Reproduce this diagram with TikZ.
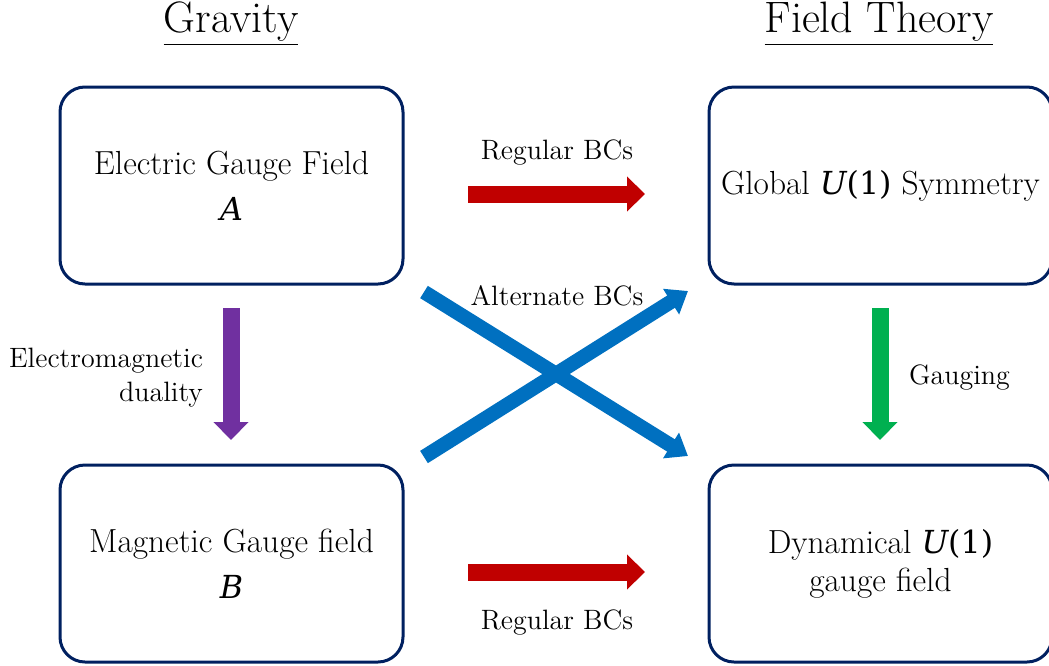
\documentclass[tikz,border=0pt]{standalone}
\usepackage{fontspec}
\newfontfamily\mathfnt[Scale=0.95]{DejaVu Serif}
\usetikzlibrary{arrows.meta}
\definecolor{boxblue}{HTML}{002060}
\definecolor{bcred}{HTML}{C00000}
\definecolor{dualpurple}{HTML}{7030A0}
\definecolor{gaugegreen}{HTML}{00B050}
\definecolor{altblue}{HTML}{0070C0}
\newcommand{\mvar}[1]{{\mathfnt\itshape #1}}
\newcommand{\uone}{\mvar{U}{\mathfnt(1)}}
\begin{document}
\begin{tikzpicture}[x=0.5pt,y=-0.5pt,
  box/.style={draw=boxblue,line width=1.5pt,rounded corners=12.5pt,minimum width=171.5pt,minimum height=98.5pt,align=center,font=\fontsize{16.7}{19}\selectfont},
  lbl/.style={font=\fontsize{14}{17}\selectfont},
  ttl/.style={font=\fontsize{22}{26}\selectfont,inner sep=1pt},
  fat/.style={line width=8.5pt,-{Triangle[width=17pt,length=9pt]}},
  slim/.style={line width=7.25pt,-{Triangle[width=14.5pt,length=10pt]}}]
\useasboundingbox (0,0) rectangle (1049,665);
% titles
\node[ttl] (grav) at (231,24) {\underline{Gravity}};
\node[ttl] (fthy) at (879,24) {\underline{Field Theory}};
% boxes
\node[box] (elec) at (231.5,185.5) {Electric Gauge Field\\[4pt]\mvar{A}};
\node[box] (magn) at (231.5,563.5) {Magnetic Gauge field\\[4pt]\mvar{B}};
\node[box] (glob) at (880.5,185.5) {Global \uone{} Symmetry};
\node[box] (dyna) at (880.5,563.5) {Dynamical \uone\\gauge field};
% arrow ends
\coordinate (regAs) at (468,194);
\coordinate (regAe) at (645,194);
\coordinate (regBs) at (468,572);
\coordinate (regBe) at (645,572);
\coordinate (dualS) at (231,308);
\coordinate (dualE) at (231,440);
\coordinate (gaugS) at (880,308);
\coordinate (gaugE) at (880,440);
\coordinate (altAs) at (424,457);
\coordinate (altAe) at (688,291);
\coordinate (altBs) at (424,292);
\coordinate (altBe) at (688,456);
% arrows
\draw[fat,bcred] (regAs) -- (regAe);
\draw[fat,bcred] (regBs) -- (regBe);
\draw[fat,dualpurple] (dualS) -- (dualE);
\draw[fat,gaugegreen] (gaugS) -- (gaugE);
\draw[slim,altblue] (altAs) -- (altAe);
\draw[slim,altblue] (altBs) -- (altBe);
% labels
\node[lbl] (regA) at (557,153) {Regular BCs};
\node[lbl] (regB) at (557,623) {Regular BCs};
\node[lbl] (alt) at (557,296) {Alternate BCs};
\node[lbl,align=right,anchor=east] (emd) at (210,378) {Electromagnetic\\duality};
\node[lbl,anchor=west] (gaug) at (902,378) {Gauging};
\end{tikzpicture}
\end{document}
